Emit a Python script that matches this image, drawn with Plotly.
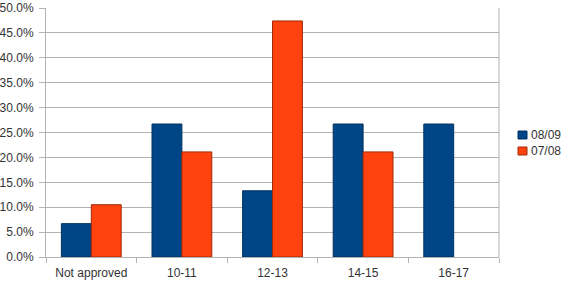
import plotly.graph_objects as go

categories = ["Not approved", "10-11", "12-13", "14-15", "16-17"]
series_names = ["08/09", "07/08"]
series_0809 = [6.7, 26.7, 13.3, 26.7, 26.7]
series_0708 = [10.5, 21.1, 47.4, 21.1, 0.0]
y_ticks = [0, 5, 10, 15, 20, 25, 30, 35, 40, 45, 50]

colors = ["#004586", "#ff420e"]
edges = ["#00335f", "#a02a08"]

fig = go.Figure()
for name, vals, c, e in zip(series_names, [series_0809, series_0708], colors, edges):
    fig.add_trace(go.Bar(
        x=categories, y=vals, name=name,
        marker=dict(color=c, line=dict(color=e, width=[1 if v > 0 else 0 for v in vals])),
    ))

fig.update_layout(
    width=561, height=281,
    margin=dict(l=46, r=62, t=8, b=24, autoexpand=False),
    paper_bgcolor="white", plot_bgcolor="white",
    barmode="group", bargap=0.34, bargroupgap=0,
    font=dict(family="Liberation Sans, Arial, sans-serif", size=12, color="#333333"),
    showlegend=False,
)
fig.update_xaxes(
    type="category", tickson="boundaries", ticks="outside", ticklen=5,
    tickcolor="#b3b3b3", showgrid=False, showline=True, linecolor="#b3b3b3",
    range=[-0.5, 4.5], automargin=False, ticklabelstandoff=5,
)
fig.update_yaxes(
    range=[0, 50], tickvals=y_ticks, ticktext=[f"{v:.1f}%" for v in y_ticks],
    showgrid=True, gridcolor="#b3b3b3", gridwidth=1,
    ticks="outside", ticklen=6, tickcolor="#b3b3b3",
    showline=True, linecolor="#b3b3b3", zeroline=False, automargin=False,
    ticklabelstandoff=3,
)
# right border of plot area
fig.add_shape(type="line", xref="paper", yref="paper", x0=1, x1=1, y0=0, y1=1,
              line=dict(color="#b3b3b3", width=1))

# legend drawn manually (squares + real text), positioned in pixels
for i, (name, c, e) in enumerate(zip(series_names, colors, edges)):
    y_top = 131 + 16 * i
    fig.add_shape(type="rect", xref="paper", yref="paper",
                  x0=(518 - 46) / 453, x1=(527 - 46) / 453,
                  y0=(257 - (y_top + 8)) / 249, y1=(257 - y_top) / 249,
                  fillcolor=c, line=dict(color=e, width=1))
    fig.add_annotation(xref="paper", yref="paper",
                       x=(530 - 46) / 453, y=(257 - (y_top + 4)) / 249,
                       text=name, showarrow=False, xanchor="left", yanchor="middle",
                       borderpad=0, font=dict(size=12, color="#333333"))

fig.write_html("out.html")
